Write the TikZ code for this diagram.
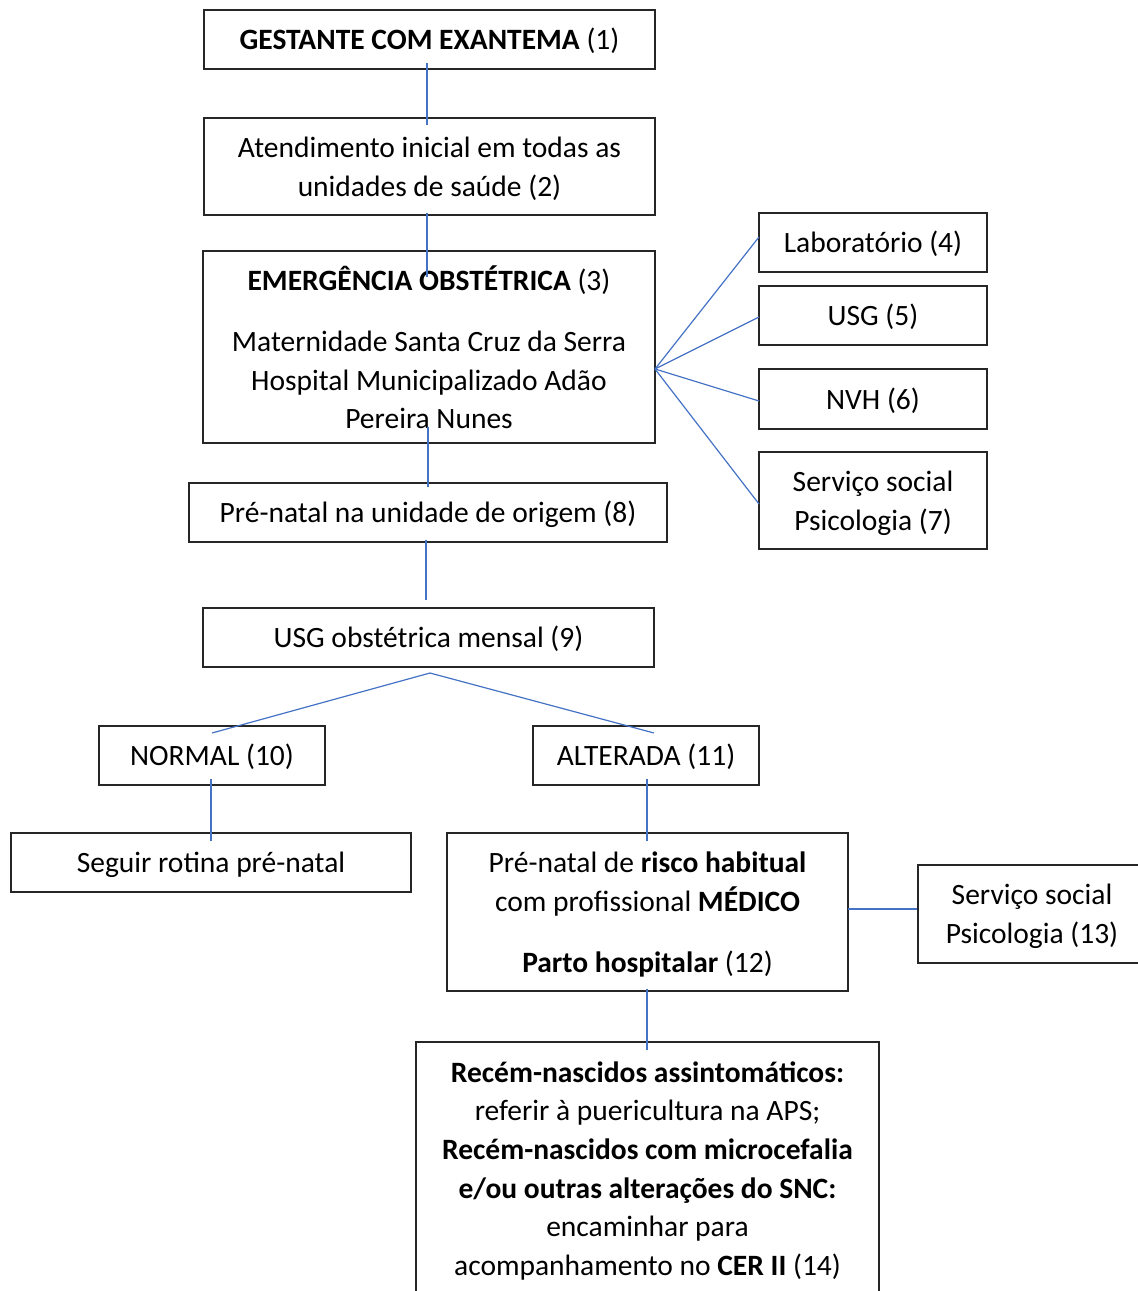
\documentclass[tikz,border=0pt]{standalone}
\usepackage{fontspec}
\setmainfont{Carlito}
\newcommand\tstr{\rule{0pt}{28pt}}
\newcommand\bstr{\rule[-7.5pt]{0pt}{7.5pt}}
\begin{document}
\begin{tikzpicture}[x=1pt,y=-1pt,
  box/.style={draw=black!85,line width=1.6pt,align=center,inner sep=0pt,
    font=\fontsize{29.5}{38.7}\selectfont},
  link/.style={draw=linkblue,line width=1.2pt}]
\definecolor{linkblue}{HTML}{4472C4}
\useasboundingbox (0,0) rectangle (1138,1291);
\clip (0,0) rectangle (1138,1291);
\node[box,minimum width=451,minimum height=59] (n1) at (429.5,39.5) {\tstr\bstr\textbf{GESTANTE COM EXANTEMA} (1)};
\node[box,minimum width=451,minimum height=97] (n2) at (429.5,166.5) {\tstr Atendimento inicial em todas as\\unidades de saúde (2)\bstr};
\node[box,minimum width=452,minimum height=192] (n3) at (429,347) {\rule{0pt}{33pt}\textbf{EMERGÊNCIA OBSTÉTRICA} (3)\\[22pt]Maternidade Santa Cruz da Serra\\Hospital Municipalizado Adão\\Pereira Nunes\bstr};
\node[box,minimum width=228,minimum height=59] (n4) at (873,242.5) {\tstr\bstr Laboratório (4)};
\node[box,minimum width=228,minimum height=59] (n5) at (873,315.5) {\tstr\bstr USG (5)};
\node[box,minimum width=228,minimum height=60] (n6) at (873,399) {\tstr\bstr NVH (6)};
\node[box,minimum width=228,minimum height=97] (n7) at (873,500.5) {\tstr Serviço social\\Psicologia (7)\bstr};
\node[box,minimum width=478,minimum height=59] (n8) at (428,512.5) {\tstr\bstr Pré-natal na unidade de origem (8)};
\node[box,minimum width=451,minimum height=59] (n9) at (428.5,637.5) {\tstr\bstr USG obstétrica mensal (9)};
\node[box,minimum width=226,minimum height=59] (n10) at (212,755.5) {\tstr\bstr NORMAL (10)};
\node[box,minimum width=226,minimum height=59] (n11) at (646,755.5) {\tstr\bstr ALTERADA (11)};
\node[box,minimum width=400,minimum height=59] (ns) at (211,862.5) {\tstr\bstr Seguir rotina pré-natal};
\node[box,minimum width=401,minimum height=158] (n12) at (647.5,912) {\tstr Pré-natal de \textbf{risco habitual}\\com profissional \textbf{MÉDICO}\\[22.5pt]\textbf{Parto hospitalar} (12)\bstr};
\node[box,minimum width=228,minimum height=98] (n13) at (1032,914) {\tstr Serviço social\\Psicologia (13)\bstr};
\node[box,minimum width=463,minimum height=253] (n14) at (647.5,1168.5) {\tstr\textbf{Recém-nascidos assintomáticos:}\\referir à puericultura na APS;\\\textbf{Recém-nascidos com microcefalia}\\\textbf{e/ou outras alterações do SNC:}\\encaminhar para\\acompanhamento no \textbf{CER II} (14)\bstr};
% connector end points
\coordinate (a1) at (427,63);   \coordinate (b2) at (427,125);
\coordinate (a2) at (427,213);  \coordinate (b3) at (427,277);
\coordinate (a3) at (428,427);  \coordinate (b8) at (428,487);
\coordinate (a8) at (426,540);  \coordinate (b9) at (426,600);
\coordinate (f3) at (655,369);
\coordinate (e4) at (759,237);  \coordinate (e5) at (759,317);
\coordinate (e6) at (759,401);  \coordinate (e7) at (759,504);
\coordinate (f9) at (430,673);
\coordinate (e10) at (212,733); \coordinate (e11) at (654,733);
\coordinate (a10) at (211,779); \coordinate (bs) at (211,841);
\coordinate (a11) at (647,779); \coordinate (b12) at (647,841);
\coordinate (a12) at (647,989); \coordinate (b14) at (647,1050);
\coordinate (r12) at (848,909); \coordinate (l13) at (917,909);
\draw[link] (a1) -- (b2);
\draw[link] (a2) -- (b3);
\draw[link] (a3) -- (b8);
\draw[link] (a8) -- (b9);
\draw[link] (f3) -- (e4);
\draw[link] (f3) -- (e5);
\draw[link] (f3) -- (e6);
\draw[link] (f3) -- (e7);
\draw[link] (e10) -- (f9) -- (e11);
\draw[link] (a10) -- (bs);
\draw[link] (a11) -- (b12);
\draw[link] (a12) -- (b14);
\draw[link] (r12) -- (l13);
\end{tikzpicture}
\end{document}
